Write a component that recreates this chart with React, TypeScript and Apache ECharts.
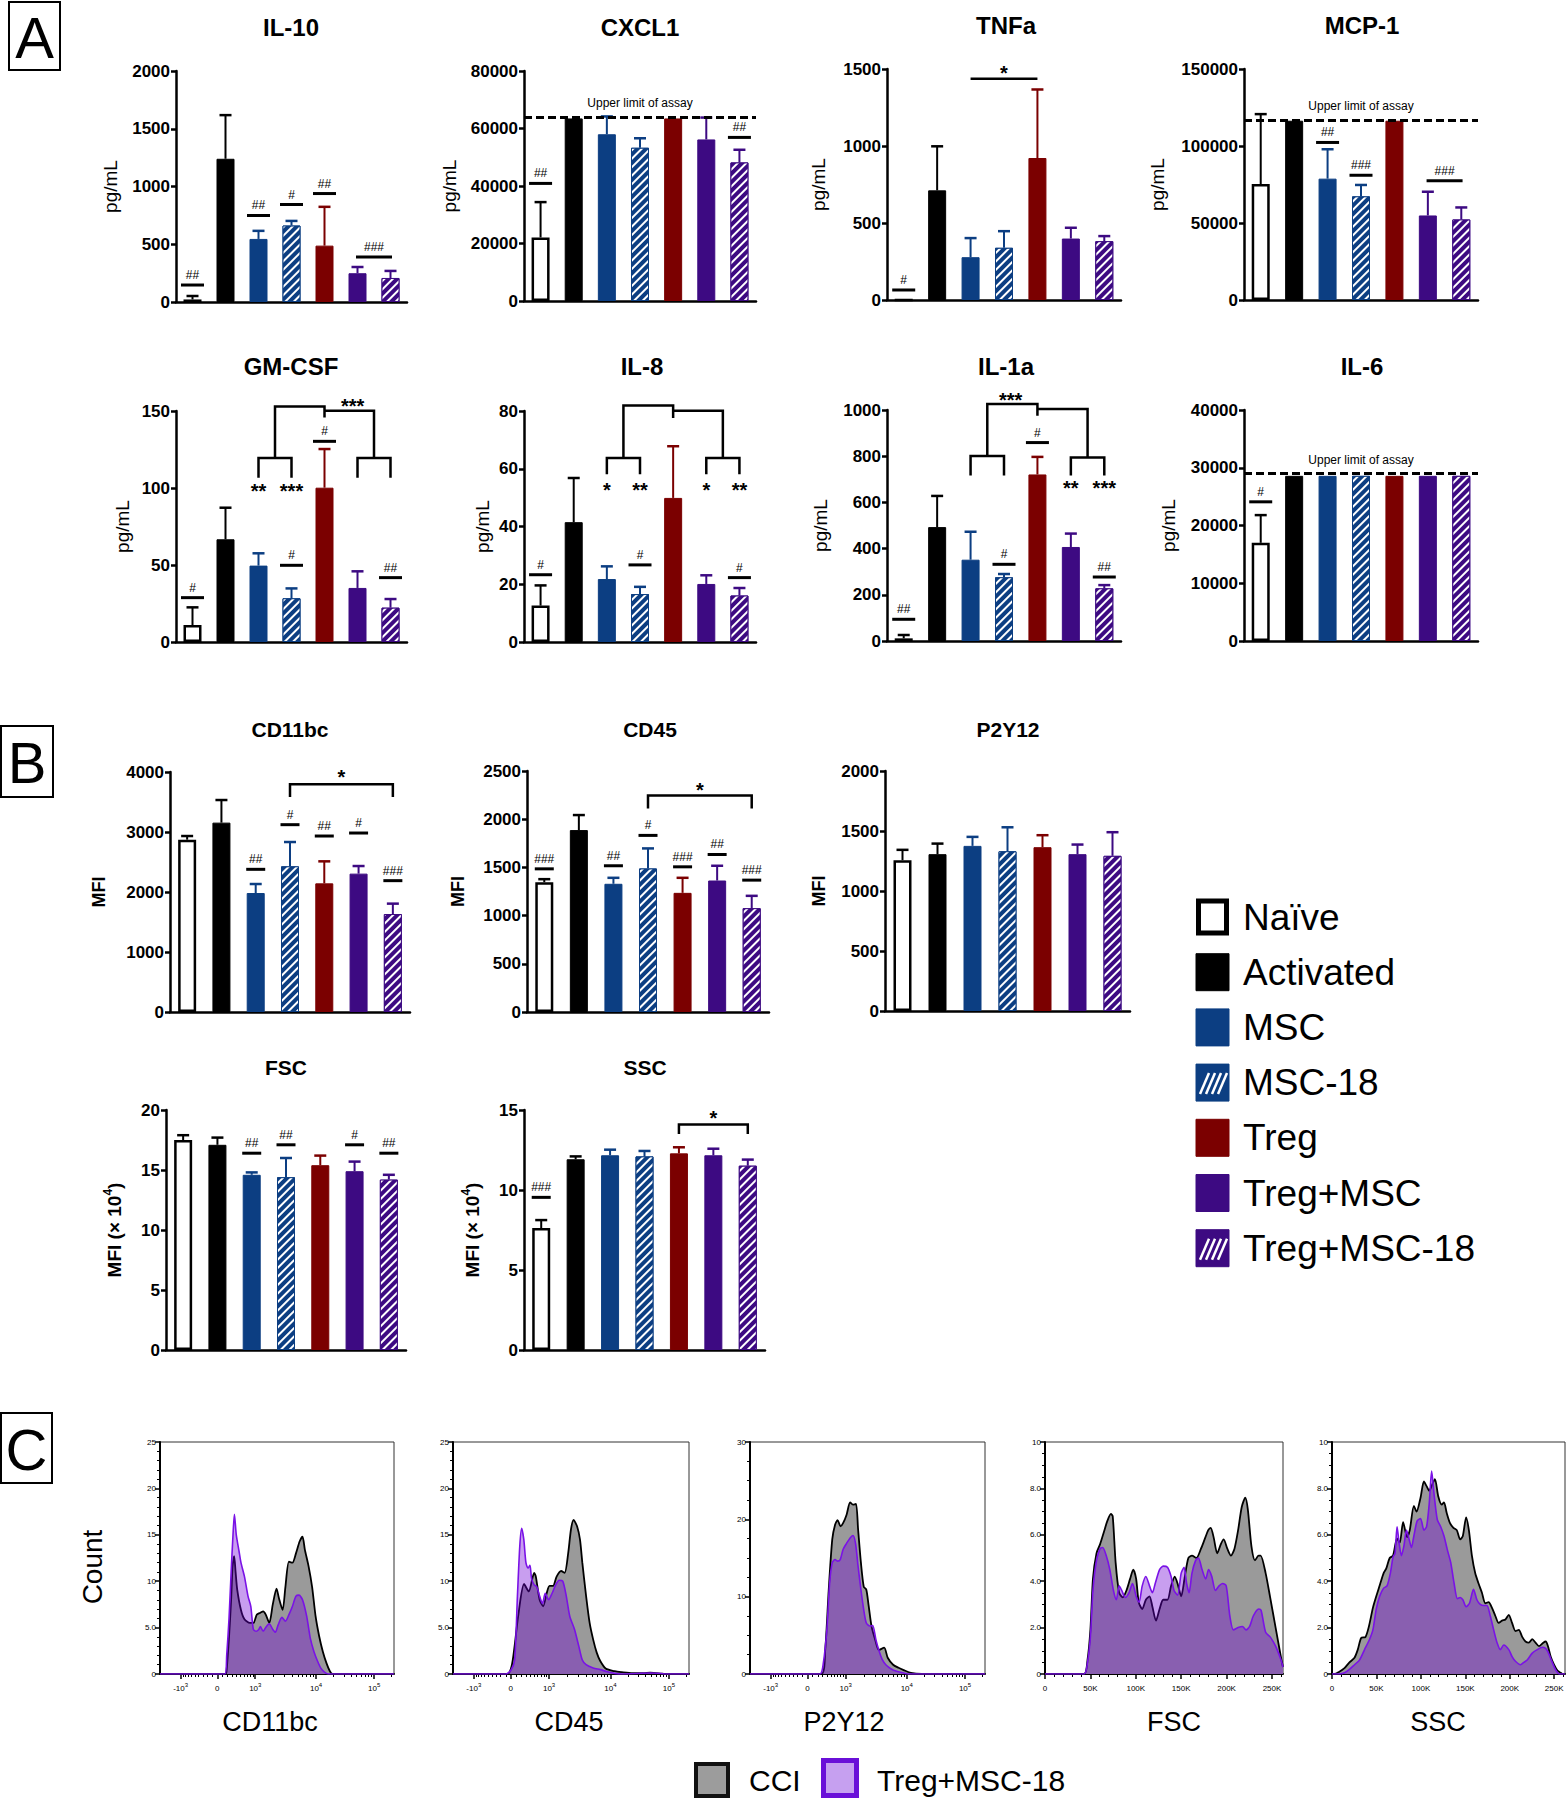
import React, { useEffect, useRef } from 'react';
import * as echarts from 'echarts';

// ---------------- shared categories ----------------
const categories = ['Naïve', 'Activated', 'MSC', 'MSC-18', 'Treg', 'Treg+MSC', 'Treg+MSC-18'];
const barColors = ['#ffffff', '#000000', '#0c3e82', '#0c3e82', '#7b0000', '#3d0a82', '#3d0a82'];
const lineColors = ['#000000', '#000000', '#0c3e82', '#0c3e82', '#7b0000', '#3d0a82', '#3d0a82'];
const hatchedGroups = [false, false, false, true, false, false, true];

// ---------------- Panel A (pg/mL): mean and SEM ----------------
const il10Mean = [22, 1240, 546, 662, 488, 249, 208];
const il10Sem = [30, 378, 70, 40, 336, 54, 61];
const cxcl1Mean = [22100, 63500, 58000, 53300, 63500, 56200, 48200];
const cxcl1Sem = [12300, 0, 6200, 3300, 0, 7600, 4400];
const tnfaMean = [0, 712, 278, 339, 922, 399, 382];
const tnfaSem = [0, 286, 124, 108, 445, 70, 33];
const mcp1Mean = [75300, 116400, 78800, 67300, 116400, 54900, 52300];
const mcp1Sem = [45400, 0, 19100, 7400, 0, 15400, 7800];
const gmcsfMean = [11, 66.7, 49.6, 28.4, 100.2, 35.1, 22.3];
const gmcsfSem = [11.5, 20.5, 8, 6.4, 25.1, 10.8, 5.6];
const il8Mean = [12.6, 41.5, 21.8, 16.6, 49.9, 20.1, 16.1];
const il8Sem = [7, 15.3, 4.4, 2.5, 17.9, 3, 2.6];
const il1aMean = [11.5, 493, 352, 276, 721, 407, 228];
const il1aSem = [14.5, 135, 121, 14, 76, 58, 14];
const il6Mean = [17000, 28600, 28600, 28600, 28600, 28600, 28600];
const il6Sem = [4800, 0, 0, 0, 0, 0, 0];
const cxcl1Limit = 64000;
const mcp1Limit = 117000;
const il6Limit = 29000;

// ---------------- Panel B (MFI): mean and SEM ----------------
const cd11bcMean = [2872, 3156, 1983, 2428, 2144, 2306, 1633];
const cd11bcSem = [61, 377, 150, 405, 367, 127, 173];
const cd45Mean = [1347, 1887, 1330, 1489, 1236, 1364, 1077];
const cd45Sem = [31, 156, 62, 208, 156, 153, 128];
const p2y12Mean = [1257, 1307, 1376, 1331, 1365, 1307, 1293];
const p2y12Sem = [86, 88, 75, 200, 100, 80, 197];
const fscMean = [17.5, 17.1, 14.6, 14.4, 15.4, 14.9, 14.2];
const fscSem = [0.4, 0.6, 0.2, 1.6, 0.8, 0.8, 0.4];
const sscMean = [7.62, 11.92, 12.17, 12.1, 12.29, 12.17, 11.52];
const sscSem = [0.5, 0.18, 0.35, 0.34, 0.38, 0.41, 0.38];

// ---------------- significance marks: [fromGroup, toGroup, height, text] ----------------
const il10Marks = [[0, 0, 147, '##'], [2, 2, 749, '##'], [3, 3, 844, '#'], [4, 4, 939, '##'], [5, 6, 390, '###']];
const cxcl1Marks = [[0, 0, 40900, '##'], [6, 6, 56900, '##']];
const tnfaMarks = [[0, 0, 65, '#']];
const mcp1Marks = [[2, 2, 102300, '##'], [3, 3, 81000, '###'], [5, 6, 77500, '###']];
const gmcsfMarks = [[0, 0, 28.8, '#'], [3, 3, 49.8, '#'], [4, 4, 130.3, '#'], [6, 6, 41.8, '##']];
const il8Marks = [[0, 0, 23.3, '#'], [3, 3, 26.7, '#'], [6, 6, 22.3, '#']];
const il1aMarks = [[0, 0, 94, '##'], [3, 3, 332, '#'], [4, 4, 859, '#'], [6, 6, 277, '##']];
const il6Marks = [[0, 0, 24100, '#']];
const cd11bcMarks = [[2, 2, 2378, '##'], [3, 3, 3122, '#'], [4, 4, 2933, '##'], [5, 5, 2983, '#'], [6, 6, 2189, '###']];
const cd45Marks = [[0, 0, 1485, '###'], [2, 2, 1517, '##'], [3, 3, 1832, '#'], [4, 4, 1506, '###'], [5, 5, 1634, '##'], [6, 6, 1368, '###']];
const fscMarks = [[2, 2, 16.4, '##'], [3, 3, 17.1, '##'], [5, 5, 17.1, '#'], [6, 6, 16.4, '##']];
const sscMarks = [[0, 0, 9.54, '###']];

// brackets: points [group, height], labels [group, height, text]
const tnfaBrackets = [{ pts: [[2, 1437], [4, 1437]], labels: [[3, 1506, '*']] }];
const gmcsfBrackets = [
  { pts: [[2, 106.7], [2, 119.5], [3, 119.5], [3, 106.7]], labels: [[2, 101, '**'], [3, 101, '***']] },
  { pts: [[5, 106.7], [5, 119.5], [6, 119.5], [6, 106.7]], labels: [] },
  { pts: [[2.5, 119.5], [2.5, 153], [4, 153], [4, 145.7]], labels: [] },
  { pts: [[4, 150.2], [5.5, 150.2], [5.5, 119.5]], labels: [[4.85, 156.5, '***']] },
];
const il8Brackets = [
  { pts: [[2, 58.1], [2, 63.7], [3, 63.7], [3, 58.1]], labels: [[2, 54.3, '*'], [3, 54.3, '**']] },
  { pts: [[5, 58.1], [5, 63.7], [6, 63.7], [6, 58.1]], labels: [[5, 54.3, '*'], [6, 54.3, '**']] },
  { pts: [[2.5, 63.7], [2.5, 81.9], [4, 81.9], [4, 77.6]], labels: [] },
  { pts: [[4, 80.1], [5.5, 80.1], [5.5, 63.7]], labels: [] },
];
const il1aBrackets = [
  { pts: [[2, 716], [2, 801], [3, 801], [3, 716]], labels: [] },
  { pts: [[5, 716], [5, 794], [6, 794], [6, 716]], labels: [[5, 683, '**'], [6, 683, '***']] },
  { pts: [[2.5, 801], [2.5, 1026], [4, 1026], [4, 975]], labels: [[3.2, 1065, '***']] },
  { pts: [[4, 1004], [5.5, 1004], [5.5, 794]], labels: [] },
];
const cd11bcBrackets = [{ pts: [[3, 3583], [3, 3794], [6, 3794], [6, 3583]], labels: [[4.5, 4000, '*']] }];
const cd45Brackets = [{ pts: [[3, 2112], [3, 2247], [6, 2247], [6, 2112]], labels: [[4.5, 2355, '*']] }];
const sscBrackets = [{ pts: [[4, 13.5], [4, 14.1], [6, 14.1], [6, 13.5]], labels: [[5, 14.8, '*']] }];

// ---------------- Panel C histograms: [display channel, count] ----------------
const cd11bcCCI = [[0, 0], [280, 0], [285, 0.5], [295, 4], [304, 8], [310, 11.5], [317, 12.7], [323, 11], [330, 9.1], [346, 6.9], [361, 5.9], [384, 5.5], [399, 5.5], [414, 6.4], [429, 6.6], [441, 6.75], [452, 6.4], [467, 5.5], [482, 7.5], [498, 9.2], [508, 8.2], [524, 6.9], [536, 9.4], [551, 12.1], [566, 12.0], [581, 13.0], [597, 14.3], [609, 14.8], [619, 13.4], [635, 11.6], [650, 9.4], [665, 6.2], [680, 4.1], [696, 2.4], [711, 1.2], [726, 0.3], [737, 0], [1000, 0]];
const cd11bcTreg = [[0, 0], [277, 0], [285, 2], [295, 6], [304, 11], [312, 15], [318, 17.2], [326, 15], [338, 13.2], [346, 12], [361, 10.5], [376, 8.4], [388, 7.3], [399, 4.8], [411, 4.6], [422, 4.8], [429, 5.1], [441, 4.6], [454, 5.1], [467, 5.4], [482, 4.8], [493, 4.5], [505, 5.3], [521, 6.1], [536, 5.7], [551, 6.4], [566, 7.3], [581, 8.4], [594, 8.5], [609, 8.0], [627, 6.2], [642, 3.9], [658, 2.4], [673, 1.4], [688, 0.6], [703, 0.2], [718, 0], [1000, 0]];
const cd45CCI = [[0, 0], [230, 0], [248, 0.8], [261, 3.0], [276, 6.2], [301, 9.7], [321, 8.9], [344, 10.9], [351, 10.5], [367, 8.0], [382, 7.3], [397, 8.7], [409, 9.5], [424, 9.5], [439, 10.5], [458, 11.1], [473, 10.9], [488, 13.0], [500, 15.6], [511, 16.6], [526, 15.9], [538, 14.5], [548, 12.0], [564, 8.4], [579, 5.5], [594, 3.7], [609, 2.3], [624, 1.4], [647, 0.6], [685, 0.3], [715, 0.2], [761, 0.1], [806, 0.1], [836, 0.15], [882, 0.05], [897, 0], [1000, 0]];
const cd45Treg = [[0, 0], [223, 0], [245, 0.4], [261, 1.5], [273, 8.4], [283, 13.8], [291, 15.7], [300, 14.5], [309, 12.0], [318, 11.4], [326, 11.7], [333, 10.3], [344, 9.6], [355, 9.4], [367, 8.4], [379, 7.6], [391, 8.7], [405, 8.0], [420, 8.7], [435, 9.6], [450, 10.1], [465, 10.0], [480, 8.4], [495, 6.2], [515, 4.8], [533, 3.0], [548, 1.5], [564, 1.0], [594, 0.65], [624, 0.47], [654, 0.25], [685, 0.07], [715, 0], [836, 0.1], [882, 0.05], [900, 0], [1000, 0]];
const p2y12CCI = [[0, 0], [304, 0], [320, 3.1], [335, 10.9], [350, 17.4], [362, 19.3], [373, 19.9], [385, 19.1], [396, 19.5], [411, 20.6], [426, 22.2], [438, 21.9], [451, 22.0], [460, 18.7], [472, 14.4], [484, 11.3], [495, 10.9], [505, 8.8], [517, 6.2], [533, 4.4], [548, 3.1], [571, 3.4], [586, 2.1], [609, 1.2], [632, 0.8], [654, 0.5], [685, 0.13], [731, 0], [1000, 0]];
const p2y12Treg = [[0, 0], [297, 0], [312, 1.4], [327, 5.7], [339, 11.8], [350, 14.4], [362, 14.8], [373, 14.6], [384, 14.8], [396, 16.1], [411, 16.9], [426, 17.6], [438, 17.9], [449, 16.9], [460, 13.9], [472, 10.9], [484, 8.3], [495, 6.6], [510, 6.2], [522, 6.25], [536, 4.4], [548, 3.1], [563, 1.85], [578, 1.2], [601, 0.65], [624, 0.35], [654, 0.13], [670, 0], [1000, 0]];
// FSC / SSC in thousands
const fscCCI = [[0, 0], [42.9, 0], [46.8, 0.6], [50, 1.9], [52.8, 4.1], [56.7, 5.2], [60.7, 5.6], [64.7, 6.1], [68.7, 6.6], [72.6, 6.9], [74.6, 6.8], [77.8, 4.8], [81.7, 3.5], [85.7, 3.3], [89.7, 3.6], [93.7, 4.1], [97.2, 4.5], [100.4, 4.1], [103.2, 3.1], [107.1, 2.8], [111.1, 3.2], [115.1, 3.35], [118.3, 2.9], [122.2, 2.3], [126.2, 2.8], [130.2, 3.2], [134.9, 3.2], [138.9, 3.8], [142.9, 4.2], [146, 3.9], [150, 3.35], [154, 4.2], [157.9, 5.0], [161.9, 5.1], [166.7, 5.0], [171.8, 5.4], [175.8, 5.8], [179.8, 6.2], [182.5, 6.3], [185.7, 5.9], [189.7, 5.2], [193.7, 5.6], [196.8, 5.8], [200.8, 5.4], [204.8, 5.1], [208.7, 5.4], [212.7, 6.2], [216.7, 7.2], [220.6, 7.6], [223.4, 7.1], [227.4, 5.5], [231.3, 4.9], [235.3, 5.1], [237.5, 5.1], [243, 4.35], [248, 3.3], [254, 2.0], [260, 0.7], [262.1, 0.3]];
const fscTreg = [[0, 0], [42.9, 0], [46.8, 0.5], [50, 1.6], [52.8, 3.6], [56.7, 4.9], [60.7, 5.4], [63.5, 5.45], [67.5, 5.1], [71.4, 4.5], [75.4, 3.6], [78.6, 3.2], [81.7, 3.8], [84.5, 3.6], [88.5, 3.3], [92.5, 3.5], [96.4, 3.9], [100.4, 3.35], [103.6, 3.1], [107.1, 3.8], [111.1, 4.2], [115.1, 3.8], [118.3, 3.5], [121.4, 3.9], [126.2, 4.5], [130.2, 4.65], [134.9, 4.6], [138.9, 4.2], [142.1, 3.6], [146, 3.4], [150, 4.35], [153.2, 4.6], [156, 3.9], [158.7, 3.5], [161.9, 4.35], [165.9, 4.9], [169, 5.0], [173, 4.5], [177, 4.1], [180.2, 4.5], [183.7, 4.2], [187.7, 3.6], [191.7, 3.8], [195.6, 3.9], [199.6, 3.8], [203.6, 2.5], [207.5, 1.9], [212.7, 2.0], [217.5, 2.05], [221.4, 1.9], [225.4, 2.05], [229.4, 2.5], [235.3, 2.8], [238, 2.75], [243, 1.8], [248, 1.6], [254, 1.2], [260, 0.6], [262.1, 0.3]];
const sscCCI = [[0, 0], [2.6, 0], [8.3, 0.1], [14, 0.25], [19.6, 0.5], [25.3, 0.7], [29, 1.05], [32.8, 1.55], [37.7, 1.6], [41.5, 2.05], [46, 2.85], [49.8, 3.35], [54.3, 3.9], [58.1, 4.35], [61.1, 4.55], [64.9, 5.0], [68.7, 5.1], [73.2, 5.85], [76.2, 5.65], [80, 6.55], [84.5, 5.9], [87.5, 6.2], [92.1, 7.25], [95.1, 7.0], [99.6, 7.6], [103.4, 8.3], [106.4, 8.1], [109.4, 7.9], [112, 8.1], [115.8, 8.4], [119.6, 7.65], [123.4, 7.3], [126, 7.4], [129, 6.95], [132.8, 6.5], [136.6, 6.3], [140.4, 6.2], [144.2, 5.8], [147.2, 5.95], [150.9, 6.75], [154, 6.2], [157.4, 5.1], [161.1, 4.35], [164.9, 3.9], [168.7, 3.5], [172.5, 3.05], [176.2, 3.1], [180, 2.85], [183.8, 2.5], [187.5, 2.2], [191.3, 2.3], [195.1, 2.35], [198.9, 2.55], [202.6, 2.2], [206.4, 1.85], [210.2, 1.9], [214, 1.6], [217.7, 1.4], [221.5, 1.35], [225.3, 1.5], [229, 1.35], [232.8, 1.2], [237.7, 1.35], [240.4, 1.4], [243, 1.2], [246, 0.75], [249.8, 0.4], [253.6, 0.15], [257.4, 0.05], [259.2, 0], [262.1, 0]];
const sscTreg = [[0, 0], [8.3, 0], [14, 0.05], [19.6, 0.2], [25.3, 0.4], [30.9, 0.6], [36.6, 1.05], [42.3, 1.5], [46, 1.9], [49.8, 2.8], [53.6, 3.35], [58.1, 3.7], [61.9, 3.8], [65.7, 4.35], [68.7, 5.05], [70.9, 5.2], [73.2, 6.35], [75.5, 5.65], [78.1, 5.1], [80.8, 5.5], [83.8, 6.2], [86.8, 5.8], [89.4, 5.45], [92.1, 5.95], [95.8, 6.6], [99.6, 6.7], [103.4, 6.2], [106.4, 6.35], [109.4, 7.35], [112.1, 8.75], [114.7, 7.8], [118.5, 6.65], [122.3, 6.35], [126, 5.95], [129.8, 5.35], [133.6, 4.8], [137.4, 3.9], [141.1, 3.25], [144.2, 3.3], [147.2, 3.2], [150.9, 2.9], [154.7, 3.05], [159.2, 3.65], [163, 3.2], [166.8, 3.0], [170.6, 2.95], [174.3, 2.95], [178.1, 2.5], [181.9, 1.9], [185.7, 1.35], [189.4, 1.05], [193.2, 1.25], [198.9, 1.05], [202.6, 0.75], [206.4, 0.55], [212.1, 0.4], [215.8, 0.5], [219.6, 0.6], [225.3, 0.9], [230.9, 1.05], [236.6, 1.15], [240.4, 1.1], [243, 0.95], [246.8, 0.6], [250.6, 0.25], [253.6, 0.07], [255.5, 0], [262.1, 0]];

// axis tick labels
const logTickPos = [88, 245, 407, 667, 915];
const logTickLabels = ['-10{s|3}', '0', '10{s|3}', '10{s|4}', '10{s|5}'];
const linTickPos = [0, 50, 100, 150, 200, 250];
const linTickLabels = ['0', '50K', '100K', '150K', '200K', '250K'];

const legendNames = ['Naïve', 'Activated', 'MSC', 'MSC-18', 'Treg', 'Treg+MSC', 'Treg+MSC-18'];

const FONT = '"Liberation Sans", Arial, Helvetica, sans-serif';

function xAt(api: any, f: number) {
  const a = Math.floor(f);
  const b = Math.ceil(f);
  const xa = api.coord([a, 0])[0];
  if (a === b) return xa;
  const xb = api.coord([b, 0])[0];
  return xa + (xb - xa) * (f - a);
}
function yAt(api: any, v: number) {
  return api.coord([0, v])[1];
}

function buildOption() {
  const styleA = { fontSize: 19, fontWeight: 'normal', color: '#000', fontFamily: FONT };
  const styleB = { fontSize: 18, fontWeight: 'bold', color: '#000', fontFamily: FONT };
  const styleB2 = {
    fontSize: 19, fontWeight: 'bold', color: '#000', fontFamily: FONT, lineHeight: 24,
    rich: { sup: { fontSize: 12, fontWeight: 'bold', fontFamily: FONT, color: '#000', verticalAlign: 'top', lineHeight: 12 } },
  };
  const barSpecs: any[] = [
    { title: 'IL-10', mean: il10Mean, sem: il10Sem, max: 2000, step: 500, yName: 'pg/mL', ns: styleA, marks: il10Marks, brackets: [], limit: null, box: [176, 407, 71, 302], gap: 56, t: [291, 27], ts: 24, half: 11.5 },
    { title: 'CXCL1', mean: cxcl1Mean, sem: cxcl1Sem, max: 80000, step: 20000, yName: 'pg/mL', ns: styleA, marks: cxcl1Marks, brackets: [], limit: cxcl1Limit, box: [524, 756, 71, 301], gap: 65, t: [640, 27], ts: 24, half: 11.5 },
    { title: 'TNFa', mean: tnfaMean, sem: tnfaSem, max: 1500, step: 500, yName: 'pg/mL', ns: styleA, marks: tnfaMarks, brackets: tnfaBrackets, limit: null, box: [887, 1121, 69, 300], gap: 59, t: [1006, 25], ts: 24, half: 11.5 },
    { title: 'MCP-1', mean: mcp1Mean, sem: mcp1Sem, max: 150000, step: 50000, yName: 'pg/mL', ns: styleA, marks: mcp1Marks, brackets: [], limit: mcp1Limit, box: [1244, 1478, 69, 300], gap: 77, t: [1362, 25], ts: 24, half: 11.5 },
    { title: 'GM-CSF', mean: gmcsfMean, sem: gmcsfSem, max: 150, step: 50, yName: 'pg/mL', ns: styleA, marks: gmcsfMarks, brackets: gmcsfBrackets, limit: null, box: [176, 407, 411, 642], gap: 44, t: [291, 366], ts: 24, half: 11.5 },
    { title: 'IL-8', mean: il8Mean, sem: il8Sem, max: 80, step: 20, yName: 'pg/mL', ns: styleA, marks: il8Marks, brackets: il8Brackets, limit: null, box: [524, 756, 411, 642], gap: 32, t: [642, 366], ts: 24, half: 11.5 },
    { title: 'IL-1a', mean: il1aMean, sem: il1aSem, max: 1000, step: 200, yName: 'pg/mL', ns: styleA, marks: il1aMarks, brackets: il1aBrackets, limit: null, box: [887, 1121, 410, 641], gap: 57, t: [1006, 366], ts: 24, half: 11.5 },
    { title: 'IL-6', mean: il6Mean, sem: il6Sem, max: 40000, step: 10000, yName: 'pg/mL', ns: styleA, marks: il6Marks, brackets: [], limit: il6Limit, box: [1244, 1478, 410, 641], gap: 66, t: [1362, 366], ts: 24, half: 11.5 },
    { title: 'CD11bc', mean: cd11bcMean, sem: cd11bcSem, max: 4000, step: 1000, yName: 'MFI', ns: styleB, marks: cd11bcMarks, brackets: cd11bcBrackets, limit: null, box: [170, 410, 772, 1012], gap: 62, t: [290, 729], ts: 21, half: 9.5 },
    { title: 'CD45', mean: cd45Mean, sem: cd45Sem, max: 2500, step: 500, yName: 'MFI', ns: styleB, marks: cd45Marks, brackets: cd45Brackets, limit: null, box: [527, 769, 771, 1012], gap: 60, t: [650, 729], ts: 21, half: 9.5 },
    { title: 'P2Y12', mean: p2y12Mean, sem: p2y12Sem, max: 2000, step: 500, yName: 'MFI', ns: styleB, marks: [], brackets: [], limit: null, box: [885, 1130, 771, 1011], gap: 57, t: [1008, 729], ts: 21, half: 9.5 },
    { title: 'FSC', mean: fscMean, sem: fscSem, max: 20, step: 5, yName: 'MFI (× 10{sup|4})', ns: styleB2, marks: fscMarks, brackets: [], limit: null, box: [166, 406, 1110, 1350], gap: 40, t: [286, 1067], ts: 21, half: 9.5 },
    { title: 'SSC', mean: sscMean, sem: sscSem, max: 15, step: 5, yName: 'MFI (× 10{sup|4})', ns: styleB2, marks: sscMarks, brackets: sscBrackets, limit: null, box: [524, 765, 1110, 1350], gap: 40, t: [645, 1067], ts: 21, half: 9.5 },
  ];

  const logMinor: number[] = [];
  for (let k = 2; k <= 9; k++) {
    logMinor.push(407 + 260 * Math.log10(k));
    logMinor.push(667 + 248 * Math.log10(k));
  }
  logMinor.push(915 + 248 * Math.log10(2));
  [22, 44, 64, 82, 99, 114, 128, 141, 152].forEach((d) => {
    logMinor.push(245 + d);
    logMinor.push(245 - d * 0.97);
  });
  const linMinor: number[] = [];
  for (let v = 10; v <= 260; v += 10) if (v % 50 !== 0) linMinor.push(v);

  const fmt25 = (v: number) => (v === 5 ? '5.0' : String(v));
  const fmt10 = (v: number) => (v === 0 || v === 10 ? String(v) : v.toFixed(1));
  const fmt30 = (v: number) => String(v);

  const histSpecs: any[] = [
    { title: 'CD11bc', cci: cd11bcCCI, treg: cd11bcTreg, xmax: 1000, major: logTickPos, labels: logTickLabels, minor: logMinor, ymax: 25, yint: 5, ysplit: 5, yfmt: fmt25, box: [160, 394], tx: 270 },
    { title: 'CD45', cci: cd45CCI, treg: cd45Treg, xmax: 1000, major: logTickPos, labels: logTickLabels, minor: logMinor, ymax: 25, yint: 5, ysplit: 5, yfmt: fmt25, box: [453, 689], tx: 569 },
    { title: 'P2Y12', cci: p2y12CCI, treg: p2y12Treg, xmax: 1000, major: logTickPos, labels: logTickLabels, minor: logMinor, ymax: 30, yint: 10, ysplit: 4, yfmt: fmt30, box: [750, 985], tx: 844 },
    { title: 'FSC', cci: fscCCI, treg: fscTreg, xmax: 262.144, major: linTickPos, labels: linTickLabels, minor: linMinor, ymax: 10, yint: 2, ysplit: 4, yfmt: fmt10, box: [1045, 1283], tx: 1174 },
    { title: 'SSC', cci: sscCCI, treg: sscTreg, xmax: 262.144, major: linTickPos, labels: linTickLabels, minor: linMinor, ymax: 10, yint: 2, ysplit: 4, yfmt: fmt10, box: [1332, 1565], tx: 1438 },
  ];

  const grids: any[] = [];
  const xAxes: any[] = [];
  const yAxes: any[] = [];
  const series: any[] = [];
  const graphics: any[] = [];

  const hatchDecal = {
    symbol: 'rect', symbolSize: 1, color: '#ffffff',
    dashArrayX: [1, 0], dashArrayY: [1.6, 3.2], rotation: -Math.PI / 4,
  };

  barSpecs.forEach((s, k) => {
    const [l, r, t, b] = s.box;
    grids.push({ left: l, top: t, width: r - l, height: b - t, containLabel: false, outerBoundsMode: 'none' });
    xAxes.push({
      type: 'category', gridIndex: k, data: categories,
      axisLine: { show: true, onZero: false, lineStyle: { color: '#000', width: 2.5 } },
      axisTick: { show: false }, axisLabel: { show: false }, splitLine: { show: false },
    });
    yAxes.push({
      type: 'value', gridIndex: k, min: 0, max: s.max, interval: s.step,
      name: s.yName, nameLocation: 'middle', nameRotate: 90, nameGap: s.gap, nameTextStyle: s.ns,
      axisLine: { show: true, lineStyle: { color: '#000', width: 2.5 } },
      axisTick: { show: true, length: 5, lineStyle: { color: '#000', width: 2.5 } },
      axisLabel: { color: '#000', fontWeight: 'bold', fontSize: 17, fontFamily: FONT, margin: 6, formatter: (v: number) => String(v) },
      splitLine: { show: false },
    });
    const bar: any = {
      type: 'bar', xAxisIndex: k, yAxisIndex: k, barWidth: 18, z: 2, silent: true,
      data: s.mean.map((v: number, i: number) => {
        const st: any = { color: barColors[i], borderColor: lineColors[i], borderWidth: i === 0 ? 2.5 : 1 };
        if (hatchedGroups[i]) st.decal = hatchDecal;
        return { value: v, itemStyle: st };
      }),
    };
    if (s.limit) {
      bar.markLine = {
        silent: true, symbol: ['none', 'none'], animation: false,
        lineStyle: { type: [8, 4], color: '#000', width: 3 },
        label: { show: true, position: 'insideMiddleTop', formatter: 'Upper limit of assay', color: '#000', fontSize: 12, fontFamily: FONT, distance: 8 },
        emphasis: { disabled: true },
        data: [{ yAxis: s.limit }],
      };
    }
    series.push(bar);
    // error bars
    series.push({
      type: 'custom', xAxisIndex: k, yAxisIndex: k, z: 4, silent: true,
      data: s.mean.map((m: number, i: number) => [i, m, m + s.sem[i]]),
      renderItem: (params: any, api: any) => {
        const i = params.dataIndex;
        const m = api.value(1);
        const top = api.value(2);
        if (!(top > m)) return null;
        const x = xAt(api, i);
        const y0 = yAt(api, m);
        const y1 = yAt(api, top);
        const col = lineColors[i];
        return {
          type: 'group',
          children: [
            { type: 'line', shape: { x1: x, y1: y0, x2: x, y2: y1 }, style: { stroke: col, lineWidth: 2 } },
            { type: 'line', shape: { x1: x - 6, y1: y1, x2: x + 6, y2: y1 }, style: { stroke: col, lineWidth: 2.5 } },
          ],
        };
      },
    });
    // hash marks
    if (s.marks.length) {
      series.push({
        type: 'custom', xAxisIndex: k, yAxisIndex: k, z: 5, silent: true, clip: false,
        data: s.marks.map((m: any) => [m[0], m[2], m[1]]),
        renderItem: (params: any, api: any) => {
          const m = s.marks[params.dataIndex];
          const from = api.value(0);
          const v = api.value(1);
          const to = api.value(2);
          const cx = (xAt(api, from) + xAt(api, to)) / 2;
          const half = from === to ? s.half : 18;
          const y = yAt(api, v);
          return {
            type: 'group',
            children: [
              { type: 'line', shape: { x1: cx - half, y1: y, x2: cx + half, y2: y }, style: { stroke: '#000', lineWidth: 3 } },
              { type: 'text', x: cx, y: y - 4, style: { text: m[3], fill: '#000', fontSize: 12, fontFamily: FONT, align: 'center', verticalAlign: 'bottom' } },
            ],
          };
        },
      });
    }
    // brackets
    if (s.brackets.length) {
      series.push({
        type: 'custom', xAxisIndex: k, yAxisIndex: k, z: 5, silent: true, clip: false,
        data: s.brackets.map((bk: any) => [bk.pts[0][0], bk.pts[0][1]]),
        renderItem: (params: any, api: any) => {
          const bk = s.brackets[params.dataIndex];
          const pts = bk.pts.map((p: number[]) => [xAt(api, p[0]), yAt(api, p[1])]);
          const children: any[] = [
            { type: 'polyline', shape: { points: pts }, style: { stroke: '#000', lineWidth: 2.5, fill: null } },
          ];
          bk.labels.forEach((lb: any) => {
            children.push({
              type: 'text', x: xAt(api, lb[0]), y: yAt(api, lb[1]) + 5,
              style: { text: lb[2], fill: '#000', fontSize: 20, fontWeight: 'bold', fontFamily: FONT, align: 'center', verticalAlign: 'middle' },
            });
          });
          return { type: 'group', children };
        },
      });
    }
    graphics.push({
      type: 'text', x: s.t[0], y: s.t[1],
      style: { text: s.title, fill: '#000', font: `bold ${s.ts}px ${FONT}`, align: 'center', verticalAlign: 'middle' },
    });
  });

  const nb = barSpecs.length;
  histSpecs.forEach((h, j) => {
    const gi = nb + j;
    grids.push({
      left: h.box[0], top: 1442, width: h.box[1] - h.box[0], height: 232,
      show: true, borderColor: '#333', borderWidth: 1, backgroundColor: 'transparent',
      containLabel: false, outerBoundsMode: 'none',
    });
    xAxes.push({
      type: 'value', gridIndex: gi, min: 0, max: h.xmax, position: 'bottom',
      axisLine: { show: true, onZero: false, lineStyle: { color: '#000', width: 2 } },
      axisTick: { show: true, customValues: h.major, length: 5, lineStyle: { color: '#000', width: 1.5 } },
      axisLabel: {
        show: true, customValues: h.major, color: '#000', fontSize: 8, fontFamily: FONT, margin: 8, lineHeight: 12,
        formatter: (v: number) => {
          const idx = h.major.indexOf(v);
          return idx >= 0 ? h.labels[idx] : '';
        },
        rich: { s: { fontSize: 6, fontFamily: FONT, color: '#000', verticalAlign: 'top', lineHeight: 6 } },
      },
      splitLine: { show: false },
    });
    yAxes.push({
      type: 'value', gridIndex: gi, min: 0, max: h.ymax, interval: h.yint,
      axisLine: { show: true, onZero: false, lineStyle: { color: '#000', width: 2 } },
      axisTick: { show: true, length: 5, lineStyle: { color: '#000', width: 1.5 } },
      minorTick: { show: true, splitNumber: h.ysplit, length: 3, lineStyle: { color: '#000', width: 1 } },
      axisLabel: { color: '#000', fontSize: 8, fontFamily: FONT, margin: 4, formatter: h.yfmt },
      splitLine: { show: false }, minorSplitLine: { show: false },
    });
    series.push({
      type: 'line', xAxisIndex: gi, yAxisIndex: gi, data: h.cci, showSymbol: false, smooth: 0.25, silent: true, z: 2,
      lineStyle: { color: '#000', width: 1.8 }, areaStyle: { color: '#9a9a9a', opacity: 1 },
    });
    series.push({
      type: 'line', xAxisIndex: gi, yAxisIndex: gi, data: h.treg, showSymbol: false, smooth: 0.25, silent: true, z: 3,
      lineStyle: { color: '#7a12e6', width: 1.6 }, areaStyle: { color: 'rgba(111,0,213,0.38)', opacity: 1 },
    });
    graphics.push({
      type: 'text', x: h.tx, y: 1722,
      style: { text: h.title, fill: '#000', font: `27px ${FONT}`, align: 'center', verticalAlign: 'middle' },
    });
  });
  // minor tick axes for histograms
  histSpecs.forEach((h, j) => {
    const gi = nb + j;
    xAxes.push({
      type: 'value', gridIndex: gi, min: 0, max: h.xmax, position: 'bottom',
      axisLine: { show: false, onZero: false }, axisLabel: { show: false },
      axisTick: { show: true, customValues: h.minor, length: 3, lineStyle: { color: '#000', width: 1 } },
      splitLine: { show: false },
    });
  });

  // panel letters
  const letters = [
    { t: 'A', x: 9, y: 2, w: 51, h: 68 },
    { t: 'B', x: 1, y: 726, w: 52, h: 71 },
    { t: 'C', x: 1, y: 1413, w: 51, h: 70 },
  ];
  letters.forEach((L) => {
    graphics.push({ type: 'rect', shape: { x: L.x, y: L.y, width: L.w, height: L.h }, style: { fill: '#fff', stroke: '#000', lineWidth: 2 } });
    graphics.push({ type: 'text', x: L.x + L.w / 2, y: L.y + L.h / 2 + 1, style: { text: L.t, fill: '#000', font: `58px ${FONT}`, align: 'center', verticalAlign: 'middle' } });
  });

  // legend of groups
  legendNames.forEach((name, i) => {
    const cy = 917 + 55.2 * i;
    const x0 = 1196;
    const y0 = cy - 18.5;
    if (i === 0) {
      graphics.push({ type: 'rect', shape: { x: x0 + 2.5, y: y0 + 2.5, width: 28, height: 32 }, style: { fill: '#fff', stroke: '#000', lineWidth: 5 } });
    } else {
      graphics.push({ type: 'rect', shape: { x: x0, y: y0, width: 33, height: 37 }, style: { fill: barColors[i], stroke: lineColors[i], lineWidth: 1 } });
    }
    if (hatchedGroups[i]) {
      for (let k = 0; k < 4; k++) {
        graphics.push({ type: 'line', shape: { x1: x0 + 4 + 6 * k, y1: y0 + 30, x2: x0 + 13 + 6 * k, y2: y0 + 9 }, style: { stroke: '#fff', lineWidth: 2.5 } });
      }
    }
    graphics.push({ type: 'text', x: 1243, y: cy, style: { text: name, fill: '#000', font: `37px ${FONT}`, align: 'left', verticalAlign: 'middle' } });
  });

  // Count label and histogram legend
  graphics.push({ type: 'text', x: 92, y: 1567, rotation: Math.PI / 2, style: { text: 'Count', fill: '#000', font: `28px ${FONT}`, align: 'center', verticalAlign: 'middle' } });
  graphics.push({ type: 'rect', shape: { x: 696, y: 1764, width: 32, height: 32 }, style: { fill: '#9c9c9c', stroke: '#111', lineWidth: 4 } });
  graphics.push({ type: 'text', x: 749, y: 1780, style: { text: 'CCI', fill: '#000', font: `30px ${FONT}`, align: 'left', verticalAlign: 'middle' } });
  graphics.push({ type: 'rect', shape: { x: 823.5, y: 1760.5, width: 33, height: 35 }, style: { fill: '#c6a0f0', stroke: '#6a10d8', lineWidth: 5 } });
  graphics.push({ type: 'text', x: 877, y: 1780, style: { text: 'Treg+MSC-18', fill: '#000', font: `30px ${FONT}`, align: 'left', verticalAlign: 'middle' } });

  return {
    animation: false,
    backgroundColor: '#ffffff',
    textStyle: { fontFamily: FONT },
    grid: grids,
    xAxis: xAxes,
    yAxis: yAxes,
    series,
    graphic: graphics,
  };
}

export default function App() {
  const ref = useRef<HTMLDivElement>(null);
  useEffect(() => {
    if (!ref.current) return;
    const chart = echarts.init(ref.current, undefined, { renderer: 'svg' });
    chart.setOption(buildOption() as any);
    return () => chart.dispose();
  }, []);
  return (
    <div
      ref={ref}
      style={{ position: 'absolute', left: 0, top: 0, width: 1567, height: 1800, background: '#fff' }}
    />
  );
}
